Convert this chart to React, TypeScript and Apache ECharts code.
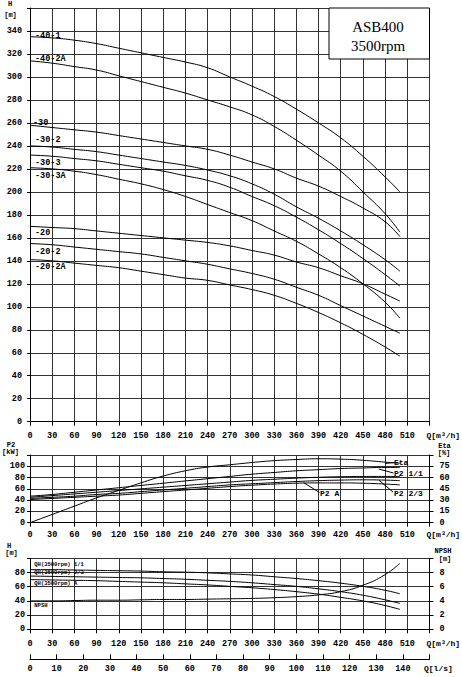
import React, { useEffect, useRef } from "react";
import * as echarts from "echarts";

// ---------- data ----------
const Q_M3H = [0, 30, 60, 90, 120, 150, 180, 210, 240, 270, 300, 330, 360, 390, 420, 450, 480, 500];

const H_40_1 = [335, 334, 332, 329, 325, 321, 317, 313, 308, 300, 292, 283, 272, 260, 247, 231, 213, 200];
const H_40_2A = [314, 312, 309, 306, 301, 296, 291, 286, 280, 274, 267, 257, 245, 232, 218, 200, 181, 165];
const H_30 = [258, 256, 254, 252, 249, 246, 243, 240, 237, 232, 226, 220, 212, 205, 196, 186, 174, 161];
const H_30_2 = [240, 239, 237, 235, 232, 229, 226, 223, 219, 214, 207, 198, 187, 177, 166, 154, 141, 131];
const H_30_3 = [232, 231, 229, 227, 224, 221, 218, 214, 210, 204, 196, 188, 178, 167, 155, 142, 128, 118];
const H_30_3A = [221, 220, 218, 215, 211, 207, 202, 196, 189, 182, 175, 166, 157, 146, 134, 120, 104, 90];
const H_20 = [170, 169, 168, 166, 164, 162, 160, 158, 156, 153, 149, 145, 139, 134, 127, 120, 111, 105];
const H_20_2 = [155, 154, 152, 150, 148, 146, 143, 140, 137, 133, 129, 124, 117, 110, 101, 92, 83, 77];
const H_20_2A = [141, 140, 138, 136, 134, 131, 128, 125, 123, 119, 115, 110, 103, 95, 86, 76, 65, 57];

const CURVE_NAMES = ["-40-1", "-40-2A", "-30", "-30-2", "-30-3", "-30-3A", "-20", "-20-2", "-20-2A"];
const CURVES = [H_40_1, H_40_2A, H_30, H_30_2, H_30_3, H_30_3A, H_20, H_20_2, H_20_2A];

const ETA = [0, 11, 22, 33, 43, 53, 62, 69, 74, 77, 80, 82.5, 84, 85, 84.5, 83, 80.5, 79];
const P2_1_1 = [47, 50, 54, 58, 62, 66, 70, 74, 78, 82, 86, 89, 92, 94, 96, 97, 98, 98];
const P2_B = [45, 48, 51, 54, 57, 60, 63, 66, 69, 72, 75, 77, 79, 80.5, 81.5, 82, 82, 82];
const P2_2_3 = [43, 45, 47, 50, 52, 55, 58, 61, 64, 67, 69, 71, 73, 74.5, 75.5, 76, 75.5, 74.5];
const P2_A = [41, 43, 45, 47, 49, 52, 55, 58, 61, 64, 66.5, 68.5, 70, 70.5, 70.5, 70, 68.5, 67];

const QH_1_1 = [84, 84, 83.5, 83, 82.5, 82, 81, 80.5, 79.5, 78, 76.5, 74, 71.5, 68.5, 65, 60.5, 55, 50];
const QH_2_3 = [75, 74.5, 74, 73.5, 73, 72.5, 71.5, 70.5, 69, 67.5, 65.5, 63, 60.5, 57, 53, 48, 41.5, 36.5];
const QH_A = [70, 69.5, 69, 68.5, 67.5, 66.5, 65.5, 64, 62.5, 60.5, 58.5, 56, 53, 49.5, 45, 40, 33.5, 28];
const NPSH = [4.0, 4.0, 4.05, 4.1, 4.1, 4.15, 4.2, 4.2, 4.25, 4.3, 4.35, 4.45, 4.6, 4.85, 5.3, 6.2, 7.7, 9.3];

// ---------- style ----------
const FONT = "'Liberation Mono', 'DejaVu Sans Mono', monospace";
const GRID_COLOR = "#333";

const pairs = (ys: number[]) => Q_M3H.map((q, i) => [q, ys[i]]);

const txt = (text: string, x: number, y: number, size = 8, align = "left") => ({
  type: "text",
  x,
  y,
  z: 100,
  style: {
    text,
    fill: "#000",
    fontSize: size,
    fontFamily: FONT,
    fontWeight: "bold",
    align,
    verticalAlign: "middle",
  },
});

const lead = (x1: number, y1: number, x2: number, y2: number) => ({
  type: "line",
  z: 100,
  shape: { x1, y1, x2, y2 },
  style: { stroke: "#000", lineWidth: 1 },
});

const labelFont = { color: "#000", fontFamily: FONT, fontSize: 8.5, fontWeight: "bold" };
const nameFont = { color: "#000", fontFamily: FONT, fontSize: 8, fontWeight: "bold" };

const qAxis = (gridIndex: number, margin: number) => ({
  type: "value",
  gridIndex,
  min: 0,
  max: 540,
  interval: 30,
  axisLine: { show: true, onZero: false, lineStyle: { color: "#000", width: 1 } },
  axisTick: { show: true, length: 4, lineStyle: { color: "#000" } },
  axisLabel: {
    ...labelFont,
    margin,
    interval: 0,
    formatter: (v: number) => (v === 540 ? "" : String(v)),
  },
  splitLine: { show: true, lineStyle: { color: GRID_COLOR, width: 1 } },
  name: "Q[m³/h]",
  nameLocation: "end",
  nameGap: -3,
  nameTextStyle: { ...nameFont, verticalAlign: "top", padding: [margin, 0, 0, 0] },
});

const vAxis = (gridIndex: number, max: number, interval: number, margin: number, right = false) => ({
  type: "value",
  gridIndex,
  position: right ? "right" : "left",
  min: 0,
  max,
  interval,
  axisLine: { show: true, onZero: false, lineStyle: { color: "#000", width: 1 } },
  axisTick: { show: true, length: right ? 4 : 3, lineStyle: { color: "#000" } },
  axisLabel: {
    ...labelFont,
    margin,
    formatter: (v: number) => (v === max ? "" : String(v)),
  },
  splitLine: { show: !right, lineStyle: { color: GRID_COLOR, width: 1 } },
});

const line = (name: string, ys: number[], xAxisIndex: number, yAxisIndex: number) => ({
  name,
  type: "line",
  xAxisIndex,
  yAxisIndex,
  data: pairs(ys),
  smooth: true,
  symbol: "none",
  lineStyle: { color: "#000", width: 1 },
  z: 5,
});

// label anchors (pixel layout of annotation texts)
const CURVE_LABEL_POS: [number, number][] = [
  [35, 36], [35, 59], [33, 123], [35, 140], [35, 163], [35, 176], [35, 233], [35, 252], [35, 267],
];

export default function App() {
  const ref = useRef<HTMLDivElement>(null);

  useEffect(() => {
    document.body.style.margin = "0";
    const chart = echarts.init(ref.current as HTMLDivElement, null, { renderer: "svg" });

    const series: any[] = [];
    CURVES.forEach((c, i) => series.push(line(CURVE_NAMES[i], c, 0, 0)));
    series.push(line("Eta", ETA, 1, 2));
    series.push(line("P2 1/1", P2_1_1, 1, 1));
    series.push(line("P2", P2_B, 1, 1));
    series.push(line("P2 2/3", P2_2_3, 1, 1));
    series.push(line("P2 A", P2_A, 1, 1));
    series.push(line("QH(3500rpm) 1/1", QH_1_1, 2, 3));
    series.push(line("QH(3500rpm) 2/3", QH_2_3, 2, 3));
    series.push(line("QH(3500rpm) A", QH_A, 2, 3));
    series.push(line("NPSH", NPSH, 2, 4));

    const graphic: any[] = [
      // top chart titles
      txt("H", 10, 4, 7, "center"),
      txt("[m]", 10.5, 15, 7, "center"),
      {
        type: "rect",
        z: 100,
        shape: { x: 329, y: 8, width: 100.5, height: 51 },
        style: { fill: "#fff", stroke: "#000", lineWidth: 1 },
      },
      {
        type: "text",
        z: 101,
        x: 378,
        y: 27,
        style: { text: "ASB400", fill: "#000", fontSize: 15, fontFamily: "'Liberation Serif', serif", align: "center", verticalAlign: "middle" },
      },
      {
        type: "text",
        z: 101,
        x: 378,
        y: 46,
        style: { text: "3500rpm", fill: "#000", fontSize: 15, fontFamily: "'Liberation Serif', serif", align: "center", verticalAlign: "middle" },
      },
      ...CURVE_NAMES.map((n, i) => txt(n, CURVE_LABEL_POS[i][0], CURVE_LABEL_POS[i][1], 8.5)),
      // middle chart titles
      txt("P2", 11, 444.5, 7, "center"),
      txt("[kW]", 10.5, 452, 7, "center"),
      txt("Eta", 444.5, 445.5, 7, "center"),
      txt("[%]", 444, 453, 7, "center"),
      txt("Eta", 394, 462.5, 8),
      lead(385, 463.5, 394, 462.5),
      txt("P2 1/1", 394, 473.5, 8),
      lead(378.7, 469, 393.5, 473),
      txt("P2 2/3", 394, 493, 8),
      lead(378.7, 480, 393, 492),
      txt("P2 A", 320, 493, 8),
      lead(303.7, 482.7, 319.5, 492.5),
      // bottom chart titles
      txt("H", 9, 545.5, 7, "center"),
      txt("[m]", 11.5, 552.8, 7, "center"),
      txt("NPSH", 443, 551, 7, "center"),
      txt("[m]", 445, 558.8, 7, "center"),
      txt("QH(3500rpm) 1/1", 34.3, 564, 5.5),
      txt("QH(3500rpm) 2/3", 34.3, 572.5, 5.5),
      txt("QH(3500rpm) A", 34.3, 583.3, 5.5),
      txt("NPSH", 34.3, 605, 5.5),
    ];

    const option: any = {
      animation: false,
      backgroundColor: "#fff",
      grid: [
        { left: 30, top: 8, width: 399.5, height: 413.7, containLabel: false, outerBoundsMode: "none" },
        { left: 30, top: 455, width: 399.5, height: 67.7, containLabel: false, outerBoundsMode: "none" },
        { left: 30, top: 558.3, width: 399.5, height: 71, containLabel: false, outerBoundsMode: "none" },
      ],
      xAxis: [
        qAxis(0, 10),
        qAxis(1, 8),
        qAxis(2, 10),
        {
          type: "value",
          gridIndex: 2,
          position: "bottom",
          offset: 30,
          min: 0,
          max: 150,
          interval: 10,
          axisLine: { show: true, onZero: false, lineStyle: { color: "#000", width: 1 } },
          axisTick: { show: true, inside: true, length: 5, lineStyle: { color: "#000" } },
          axisLabel: {
            ...labelFont,
            margin: 5,
            interval: 0,
            formatter: (v: number) => (v === 150 ? "" : String(v)),
          },
          splitLine: { show: false },
          name: "Q[l/s]",
          nameLocation: "end",
          nameGap: -5.5,
          nameTextStyle: { ...nameFont, verticalAlign: "top", padding: [5, 0, 0, 0] },
        },
      ],
      yAxis: [
        vAxis(0, 360, 20, 8),
        vAxis(1, 120, 20, 5),
        vAxis(1, 90, 15, 10, true),
        vAxis(2, 100, 20, 5),
        vAxis(2, 10, 2, 10, true),
      ],
      series,
      graphic,
    };

    chart.setOption(option);
    return () => chart.dispose();
  }, []);

  return <div ref={ref} style={{ width: 462, height: 677 }} />;
}
